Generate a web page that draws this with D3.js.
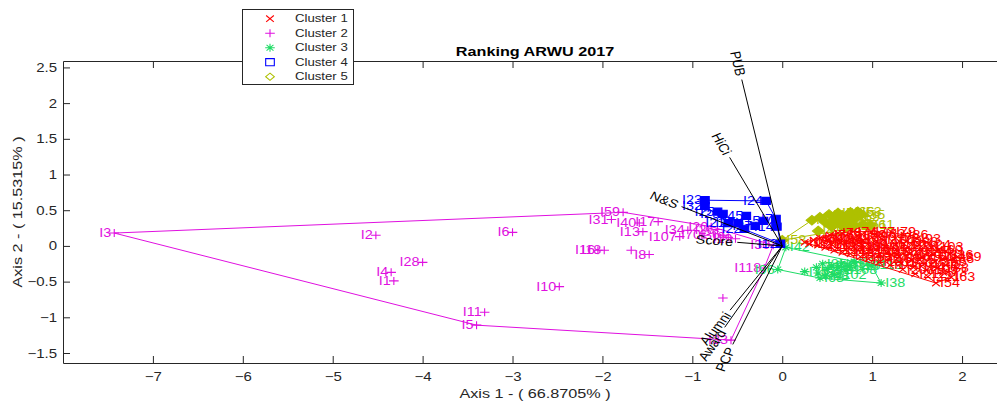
<!DOCTYPE html>
<html>
<head>
<meta charset="utf-8">
<script src="https://cdn.jsdelivr.net/npm/d3@7"></script>
<style>
  body { margin: 0; background: #fff; }
  text { font-family: "Liberation Sans", Arial, sans-serif; }
</style>
</head>
<body>
<svg id="chart" width="997" height="402"></svg>
<script>
// axis limits and ticks
const xLimits = [-8, 2.5];
const yLimits = [-1.64, 2.59];
const xTicks = [-7, -6, -5, -4, -3, -2, -1, 0, 1, 2];
const yTicks = [-1.5, -1, -0.5, 0, 0.5, 1, 1.5, 2, 2.5];

const legendLabels = ['Cluster 1', 'Cluster 2', 'Cluster 3', 'Cluster 4', 'Cluster 5'];

// [label, axis1, axis2]
const cluster1 = [
  ['I190', 0.25, 0.05], ['I122', 0.30, 0.03], ['I97', 0.35, 0.08], ['I101', 0.40, 0.01],
  ['I84', 0.42, 0.11], ['I113', 0.48, -0.02], ['I92', 0.50, 0.08], ['I76', 0.53, 0.15],
  ['I105', 0.55, 0.02], ['I131', 0.58, -0.06], ['I78', 0.62, 0.18], ['I88', 0.63, 0.10],
  ['I99', 0.65, 0.04], ['I142', 0.67, -0.09], ['I81', 0.70, 0.14], ['I94', 0.72, 0.06],
  ['I120', 0.74, -0.02], ['I151', 0.76, -0.11], ['I74', 0.79, 0.20], ['I87', 0.80, 0.10],
  ['I109', 0.82, 0.02], ['I127', 0.84, -0.06], ['I163', 0.87, -0.15], ['I80', 0.89, 0.16],
  ['I95', 0.90, 0.07], ['I114', 0.92, -0.01], ['I138', 0.94, -0.10], ['I172', 0.96, -0.18],
  ['I77', 0.99, 0.20], ['I90', 1.00, 0.12], ['I106', 1.02, 0.03], ['I125', 1.04, -0.05],
  ['I148', 1.06, -0.14], ['I181', 1.08, -0.23], ['I82', 1.10, 0.17], ['I100', 1.12, 0.08],
  ['I117', 1.14, -0.01], ['I136', 1.16, -0.09], ['I159', 1.18, -0.18], ['I195', 1.20, -0.27],
  ['I79', 1.22, 0.19], ['I72', 1.26, 0.11], ['I112', 1.26, 0.02], ['I129', 1.28, -0.07],
  ['I146', 1.30, -0.15], ['I170', 1.32, -0.24], ['I203', 1.34, -0.33], ['I86', 1.36, 0.15],
  ['I288', 1.38, 0.06], ['I121', 1.40, -0.02], ['I140', 1.42, -0.11], ['I157', 1.44, -0.20],
  ['I184', 1.46, -0.30], ['I212', 1.48, -0.39], ['I93', 1.50, 0.10], ['I124', 1.52, 0.02],
  ['I144', 1.54, -0.07], ['I161', 1.56, -0.16], ['I177', 1.58, -0.25], ['I199', 1.60, -0.34],
  ['I221', 1.62, -0.43], ['I103', 1.66, -0.02], ['I133', 1.68, -0.12], ['I155', 1.70, -0.22],
  ['I188', 1.72, -0.31], ['I60', 1.74, -0.06], ['I166', 1.78, -0.18], ['I73', 1.79, -0.37],
  ['I2', 1.82, -0.27], ['I16', 1.86, -0.12], ['I63', 1.88, -0.44], ['I39', 1.95, -0.15],
  ['I54', 1.71, -0.52]
];

const cluster2 = [
  ['I3', -7.43, 0.18], ['I2', -4.52, 0.15], ['I28', -4.00, -0.23], ['I4', -4.35, -0.37],
  ['I1', -4.32, -0.49], ['I11', -3.31, -0.93], ['I5', -3.40, -1.11], ['I6', -3.00, 0.19],
  ['I10', -2.48, -0.57], ['I16', -2.05, -0.06], ['I18', -1.98, -0.06], ['', -1.68, -0.06],
  ['I8', -1.48, -0.12], ['I59', -1.77, 0.47], ['I31', -1.90, 0.37], ['I40', -1.59, 0.32],
  ['I17', -1.38, 0.34], ['I13', -1.55, 0.20], ['I107', -1.14, 0.13], ['I34', -1.05, 0.22],
  ['I70', -0.87, 0.15], ['I20', -0.79, 0.27], ['I26', -0.72, 0.23], ['I36', -0.66, 0.15],
  ['I9', -0.60, 0.12], ['I19', -0.52, 0.10], ['I30', -0.10, 0.01], ['I118', -0.20, -0.31],
  ['', -0.66, -0.73], ['I33', -0.57, -1.32]
];

const cluster3 = [
  ['I96', -0.05, -0.33], ['I42', 0.04, -0.02], ['I75', 0.25, -0.36], ['I71', 0.38, -0.30],
  ['I89', 0.40, -0.38], ['I68', 0.42, -0.45], ['I85', 0.45, -0.25], ['I48', 0.48, -0.42],
  ['I91', 0.50, -0.33], ['I98', 0.55, -0.28], ['I102', 0.58, -0.40], ['I104', 0.62, -0.30],
  ['I83', 0.66, -0.25], ['I108', 0.70, -0.33], ['I110', 0.75, -0.28], ['I115', 0.80, -0.22],
  ['I119', 0.99, -0.27], ['I38', 1.10, -0.52]
];

const cluster4 = [
  ['I23', -0.86, 0.64], ['I32', -0.86, 0.56], ['I24', -0.18, 0.63], ['I25', -0.72, 0.48],
  ['I29', -0.66, 0.45], ['I45', -0.40, 0.42], ['I21', -0.60, 0.32], ['I27', -0.49, 0.32],
  ['I15', -0.21, 0.35], ['I7', -0.07, 0.38], ['I22', -0.42, 0.24], ['I37', -0.30, 0.28],
  ['I14', -0.06, 0.27], ['I12', -0.02, 0.03]
];

const cluster5 = [
  ['I58', 0.00, 0.08], ['I41', 0.33, 0.36], ['I43', 0.40, 0.21], ['I52', 0.42, 0.40],
  ['I44', 0.48, 0.33], ['I46', 0.52, 0.44], ['I49', 0.55, 0.27], ['I50', 0.58, 0.37],
  ['I55', 0.62, 0.46], ['I57', 0.64, 0.31], ['I62', 0.68, 0.41], ['I64', 0.70, 0.25],
  ['I65', 0.73, 0.35], ['I66', 0.76, 0.47], ['I67', 0.79, 0.29], ['I69', 0.82, 0.40],
  ['I53', 0.84, 0.48], ['I35', 0.88, 0.44], ['I51', 0.90, 0.30], ['I61', 0.98, 0.29]
];

// variable loadings [name, axis1, axis2]
const loadings = [
  ['PUB', -0.45, 2.33], ['HiCi', -0.585, 1.24], ['N&S', -1.12, 0.55], ['Score', -0.50, 0.05],
  ['Alumni', -0.58, -0.90], ['Award', -0.64, -1.14], ['PCP', -0.55, -1.38]
];

const SX = 1.2; // the picture is a bit wider than tall
const ink = '#262626';

const svg = d3.select('#chart');
const x = d3.scaleLinear().domain(xLimits).range([63, 1007]);
const y = d3.scaleLinear().domain(yLimits).range([363, 61]);

const stretch = (sel) => {
  sel.each(function() {
    const t = d3.select(this);
    const tx = +t.attr('x') || 0, ty = +t.attr('y') || 0;
    t.attr('x', 0).attr('y', 0).attr('transform', `translate(${tx},${ty}) scale(${SX},1)`);
  });
};

const markerPath = (kind, s) => {
  if (kind === 'x') return `M${-s},${-s}L${s},${s}M${-s},${s}L${s},${-s}`;
  if (kind === 'plus') return `M${-s},0H${s}M0,${-s}V${s}`;
  if (kind === 'star') {
    const d = s * 0.72;
    return `M${-s},0H${s}M0,${-s}V${s}M${-d},${-d}L${d},${d}M${-d},${d}L${d},${-d}`;
  }
  if (kind === 'square') return `M${-s},${-s}H${s}V${s}H${-s}Z`;
  return `M0,${-s}L${s},0L0,${s}L${-s},0Z`;
};

const styles = [
  { data: cluster1, color: '#ff0000', kind: 'x', size: 3.2, fill: false },
  { data: cluster2, color: '#e010e0', kind: 'plus', size: 4, fill: false },
  { data: cluster3, color: '#1fdc66', kind: 'star', size: 4, fill: false },
  { data: cluster4, color: '#0000ff', kind: 'square', size: 3.6, fill: true },
  { data: cluster5, color: '#aec000', kind: 'diamond', size: 4.8, fill: true }
];

// axes
const axisG = svg.append('g');
axisG.append('g')
    .attr('transform', 'translate(0,363)')
    .call(d3.axisBottom(x).tickValues(xTicks).tickSize(-7).tickSizeOuter(0).tickPadding(9)
      .tickFormat(d3.format('')));
axisG.append('g')
    .attr('transform', 'translate(0,61)')
    .call(d3.axisTop(x).tickValues(xTicks).tickSize(-7).tickSizeOuter(0).tickFormat(''));
axisG.append('g')
    .attr('transform', 'translate(63,0)')
    .call(d3.axisLeft(y).tickValues(yTicks).tickSize(-7).tickSizeOuter(0).tickPadding(6)
      .tickFormat(d3.format('')));
axisG.selectAll('.domain, .tick line').style('stroke', ink).style('stroke-width', 1);
axisG.selectAll('.tick text')
    .style('font-family', '"Liberation Sans", Arial, sans-serif')
    .style('font-size', '12.5px')
    .style('fill', ink)
    .call(stretch);

// clusters: hull, markers, labels
const drawCluster = (st) => {
  const g = svg.append('g');
  const pts = st.data.map((d) => [x(d[1]), y(d[2])]);
  const hull = d3.polygonHull(pts);
  g.append('path')
      .attr('d', d3.line()(hull.concat([hull[0]])))
      .style('fill', 'none')
      .style('stroke', st.color)
      .style('stroke-width', 1);

  g.selectAll('path.marker')
      .data(st.data)
      .enter()
      .append('path')
      .attr('d', markerPath(st.kind, st.size))
      .attr('transform', (d) => `translate(${x(d[1])},${y(d[2])}) scale(${SX},1)`)
      .style('vector-effect', 'non-scaling-stroke')
      .style('fill', st.fill ? st.color : 'none')
      .style('stroke', st.color)
      .style('stroke-width', 1.1);

  g.selectAll('text')
      .data(st.data)
      .enter()
      .append('text')
      .attr('transform', (d) => `translate(${x(d[1]) + (d[1] < 0 ? -3 : 4)},${y(d[2])}) scale(${SX},1)`)
      .attr('text-anchor', (d) => d[1] < 0 ? 'end' : 'start')
      .attr('dominant-baseline', 'central')
      .style('font-size', '12px')
      .style('fill', st.color)
      .text((d) => d[0]);
};

[1, 2, 4, 3, 0].forEach((i) => drawCluster(styles[i]));

// variable vectors
const vec = svg.append('g');
vec.selectAll('line')
    .data(loadings)
    .enter()
    .append('line')
    .attr('x1', x(0)).attr('y1', y(0))
    .attr('x2', (d) => x(d[1])).attr('y2', (d) => y(d[2]))
    .style('stroke', '#000')
    .style('stroke-width', 1);

vec.selectAll('text')
    .data(loadings)
    .enter()
    .append('text')
    .attr('transform', (d) => {
      const px = x(d[1]) - x(0), py = y(d[2]) - y(0);
      const len = Math.hypot(px, py);
      const lx = x(d[1]) + px / len * 4, ly = y(d[2]) + py / len * 4;
      let a = Math.atan2(py, px / SX) * 180 / Math.PI;
      if (a > 90 || a < -90) a += 180;
      return `translate(${lx},${ly}) scale(${SX},1) rotate(${a})`;
    })
    .attr('text-anchor', (d) => d[1] < 0 ? 'end' : 'start')
    .attr('dy', '0.35em')
    .style('font-size', '12px')
    .style('fill', '#000')
    .text((d) => d[0]);

// title and axis labels
svg.append('text')
    .attr('transform', `translate(535,56) scale(${SX},1)`)
    .attr('text-anchor', 'middle')
    .style('font-size', '13.5px')
    .style('font-weight', 'bold')
    .style('fill', '#000')
    .text('Ranking ARWU 2017');

svg.append('text')
    .attr('transform', `translate(535,398) scale(${SX},1)`)
    .attr('text-anchor', 'middle')
    .style('font-size', '13.5px')
    .style('fill', ink)
    .text('Axis 1 - ( 66.8705% )');

svg.append('text')
    .attr('transform', 'translate(22,212) rotate(-90) scale(1.2,1)')
    .attr('text-anchor', 'middle')
    .style('font-size', '13.5px')
    .style('fill', ink)
    .text('Axis 2 - ( 15.5315% )');

// legend
const legend = svg.append('g');
legend.append('rect')
    .attr('x', 242.5).attr('y', 9.5).attr('width', 111).attr('height', 75)
    .style('fill', '#fff')
    .style('stroke', ink)
    .style('stroke-width', 1);

const rows = legend.selectAll('g.row')
    .data(legendLabels)
    .enter()
    .append('g')
    .attr('transform', (d, i) => `translate(0,${18.7 + i * 14.5})`);

rows.append('path')
    .attr('d', (d, i) => markerPath(styles[i].kind, i > 2 ? 3.6 : styles[i].size))
    .attr('transform', `translate(270,0) scale(${SX},1)`)
    .style('vector-effect', 'non-scaling-stroke')
    .style('fill', 'none')
    .style('stroke', (d, i) => styles[i].color)
    .style('stroke-width', 1.1);

rows.append('text')
    .attr('transform', `translate(295,0) scale(${SX},1)`)
    .attr('dominant-baseline', 'central')
    .style('font-size', '11px')
    .style('fill', ink)
    .text((d) => d);
</script>
</body>
</html>
